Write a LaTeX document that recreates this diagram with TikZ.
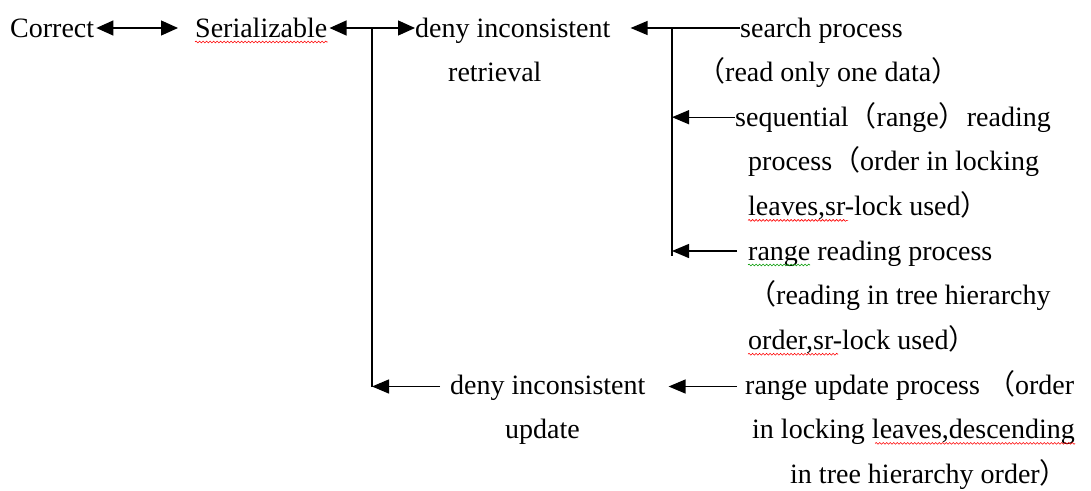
\documentclass[tikz,border=0pt]{standalone}
\usepackage{fontspec}
\setmainfont{Liberation Serif}
\newfontfamily\cjkf{Noto Sans CJK SC}
\newcommand\lpar{{\cjkf （}}
\newcommand\rpar{{\cjkf ）}}
\usetikzlibrary{arrows.meta,calc,decorations.pathmorphing}
\begin{document}
\begin{tikzpicture}[x=1pt,y=-1pt,
  txt/.style={inner sep=0pt, anchor=base west, font=\fontsize{28}{30}\selectfont},
  ln/.style={line width=1.3pt},
  arr/.style={ln, -{Triangle[length=17pt,width=14pt]}},
  dbl/.style={ln, {Triangle[length=17pt,width=15pt]}-{Triangle[length=17pt,width=15pt]}},
  squig/.style={decorate, decoration={snake, amplitude=0.9pt, segment length=3.5pt}, line width=0.6pt}]
\useasboundingbox (0,0) rectangle (1091,490);
% texts
\node[txt] (correct) at (10,37) {Correct};
\node[txt] (serial) at (195,37) {Serializable};
\node[txt] (denyR) at (415,37) {deny inconsistent};
\node[txt] (denyR2) at (448,81.6) {retrieval};
\node[txt] (search) at (740,37) {search process};
\node[txt] (search2) at (697,81.6) {\lpar read only one data\rpar};
\node[txt] (seq) at (735,126.2) {sequential\lpar range\rpar reading};
\node[txt] (seq2) at (748,170.8) {process\lpar order in locking};
\node[txt] (seq3) at (748,215.4) {leaves,sr-lock used\rpar};
\node[txt] (rr) at (748,260) {range reading process};
\node[txt] (rr2) at (748,304.6) {\lpar reading in tree hierarchy};
\node[txt] (rr3) at (748,349.2) {order,sr-lock used\rpar};
\node[txt] (denyU) at (450,394.5) {deny inconsistent};
\node[txt] (denyU2) at (505,438.4) {update};
\node[txt] (ru) at (745,394.5) {range update process \lpar order};
\node[txt] (ru2) at (752,438.4) {in locking leaves,descending};
\node[txt] (ru3) at (790,483) {in tree hierarchy order\rpar};
% junctions
\coordinate (j1) at (372,28);
\coordinate (j2) at (672,28);
\coordinate (aSeq) at ([yshift=9pt]seq.base west);
\coordinate (aRR) at ([yshift=9pt]rr.base west);
\coordinate (aDU) at ([yshift=8pt]denyU.base west);
\coordinate (aRU) at ([yshift=8pt]ru.base west);
% connectors
\draw[dbl] ([shift={(2pt,9pt)}]correct.base east) -- ([shift={(-17pt,9pt)}]serial.base west);
\draw[dbl] ([shift={(2pt,9pt)}]serial.base east) -- ([shift={(0pt,9pt)}]denyR.base west);
\draw[ln] (j1) -- (j1 |- aDU);
\draw[arr] ([xshift=-10pt]aDU) -- (j1 |- aDU);
\draw[arr] ([shift={(0pt,9pt)}]search.base west) -- ([shift={(20pt,9pt)}]denyR.base east);
\draw[ln] (j2) -- ([yshift=-5pt]j2 |- aRR);
\draw[arr] (aSeq) -- (j2 |- aSeq);
\draw[arr] ([xshift=-11pt]aRR) -- (j2 |- aRR);
\draw[arr] ([xshift=-8pt]aRU) -- ([shift={(23pt,8pt)}]denyU.base east);
% spell-check marks
\draw[squig, red] ([yshift=-5pt]serial.base west) -- ([yshift=-5pt]serial.base east);
\draw[squig, red] ([yshift=-5pt]seq3.base west) -- ++(100,0);
\draw[squig, green!60!black] ([yshift=-5pt]rr.base west) -- ++(62,0);
\draw[squig, red] ([yshift=-5pt]rr3.base west) -- ++(90,0);
\draw[squig, red] ([yshift=-5pt]ru2.base east) -- ++(-200,0);
\end{tikzpicture}
\end{document}
